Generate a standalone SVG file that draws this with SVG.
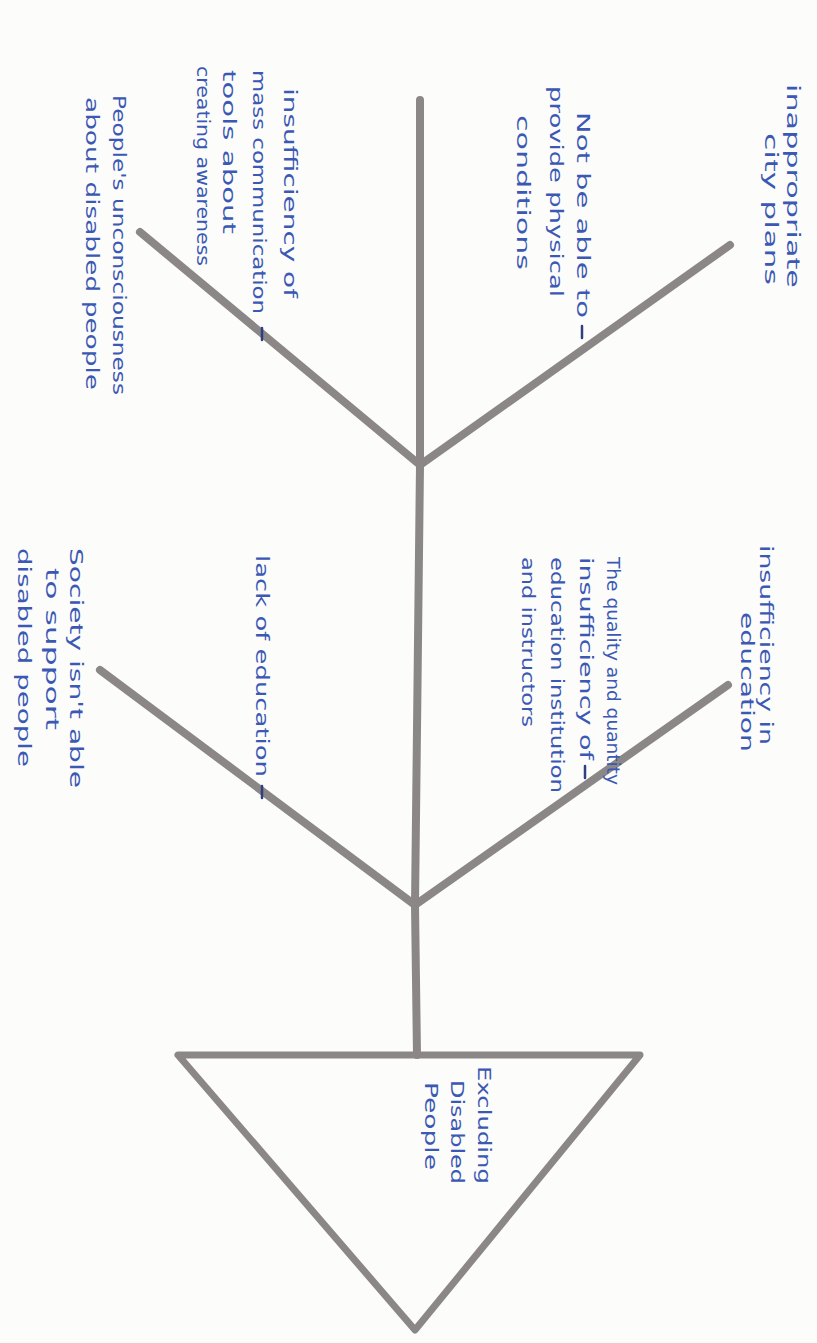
<svg xmlns="http://www.w3.org/2000/svg" width="817" height="1343" viewBox="0 0 817 1343">
<style>
.bg{fill:#fcfcfa}
.bone{stroke:#8b8787;stroke-width:8;stroke-linecap:round;stroke-linejoin:round;fill:none}
.tri{stroke:#8b8787;stroke-width:7;stroke-linejoin:round;fill:none}
.t{font-family:"DejaVu Sans","Liberation Sans",sans-serif;font-size:18px;fill:#3a58b4}
.tick{stroke:#2f3f80;stroke-width:2.5;stroke-linecap:round}
</style>
<rect class="bg" x="0" y="0" width="817" height="1343"/>

<g id="connectors">
  <polyline class="bone" points="420,100 420,465 415,905 417,1055"/>
  <line class="bone" x1="420" y1="465" x2="730" y2="245"/>
  <line class="bone" x1="420" y1="465" x2="140" y2="232"/>
  <line class="bone" x1="415" y1="905" x2="728" y2="685"/>
  <line class="bone" x1="415" y1="905" x2="100" y2="670"/>
  <line class="tick" x1="582" y1="326" x2="582" y2="338"/>
  <line class="tick" x1="262" y1="328" x2="262" y2="340"/>
  <line class="tick" x1="585" y1="766" x2="585" y2="778"/>
  <line class="tick" x1="262" y1="786" x2="262" y2="798"/>
</g>

<g id="effect">
  <polygon class="tri" points="178,1055 640,1055 415,1330"/>
  <text class="t" transform="translate(478,1066) rotate(90)" textLength="118" lengthAdjust="spacingAndGlyphs">Excluding</text>
  <text class="t" transform="translate(451,1080) rotate(90)" textLength="104" lengthAdjust="spacingAndGlyphs">Disabled</text>
  <text class="t" transform="translate(425,1082) rotate(90)" textLength="88" lengthAdjust="spacingAndGlyphs">People</text>
</g>

<g id="cause-city-plans">
  <text class="t" transform="translate(787,84) rotate(90)" textLength="204" lengthAdjust="spacingAndGlyphs">inappropriate</text>
  <text class="t" transform="translate(765,133) rotate(90)" textLength="152" lengthAdjust="spacingAndGlyphs">city plans</text>
</g>

<g id="cause-physical-conditions">
  <text class="t" transform="translate(577,112) rotate(90)" textLength="206" lengthAdjust="spacingAndGlyphs">Not be able to</text>
  <text class="t" transform="translate(550,86) rotate(90)" textLength="211" lengthAdjust="spacingAndGlyphs">provide physical</text>
  <text class="t" transform="translate(517,115) rotate(90)" textLength="155" lengthAdjust="spacingAndGlyphs">conditions</text>
</g>

<g id="cause-mass-communication">
  <text class="t" transform="translate(284,88) rotate(90)" textLength="210" lengthAdjust="spacingAndGlyphs">insufficiency of</text>
  <text class="t" transform="translate(253,70) rotate(90)" textLength="244" lengthAdjust="spacingAndGlyphs">mass communication</text>
  <text class="t" transform="translate(223,70) rotate(90)" textLength="164" lengthAdjust="spacingAndGlyphs">tools about</text>
  <text class="t" transform="translate(197,66) rotate(90)" textLength="200" lengthAdjust="spacingAndGlyphs">creating awareness</text>
</g>

<g id="cause-unconsciousness">
  <text class="t" transform="translate(113,95) rotate(90)" textLength="300" lengthAdjust="spacingAndGlyphs">People's unconsciousness</text>
  <text class="t" transform="translate(86,97) rotate(90)" textLength="293" lengthAdjust="spacingAndGlyphs">about disabled people</text>
</g>

<g id="cause-education-insufficiency">
  <text class="t" transform="translate(760,545) rotate(90)" textLength="200" lengthAdjust="spacingAndGlyphs">insufficiency in</text>
  <text class="t" transform="translate(741,612) rotate(90)" textLength="140" lengthAdjust="spacingAndGlyphs">education</text>
</g>

<g id="cause-education-quality">
  <text class="t" transform="translate(607,557) rotate(90)" textLength="228" lengthAdjust="spacingAndGlyphs">The quality and quantity</text>
  <text class="t" transform="translate(580,557) rotate(90)" textLength="203" lengthAdjust="spacingAndGlyphs">insufficiency of</text>
  <text class="t" transform="translate(551,557) rotate(90)" textLength="236" lengthAdjust="spacingAndGlyphs">education institution</text>
  <text class="t" transform="translate(522,557) rotate(90)" textLength="170" lengthAdjust="spacingAndGlyphs">and instructors</text>
</g>

<g id="cause-lack-of-education">
  <text class="t" transform="translate(256,555) rotate(90)" textLength="222" lengthAdjust="spacingAndGlyphs">lack of education</text>
</g>

<g id="cause-society">
  <text class="t" transform="translate(70,548) rotate(90)" textLength="240" lengthAdjust="spacingAndGlyphs">Society isn't able</text>
  <text class="t" transform="translate(46,568) rotate(90)" textLength="162" lengthAdjust="spacingAndGlyphs">to support</text>
  <text class="t" transform="translate(18,548) rotate(90)" textLength="219" lengthAdjust="spacingAndGlyphs">disabled people</text>
</g>
</svg>
